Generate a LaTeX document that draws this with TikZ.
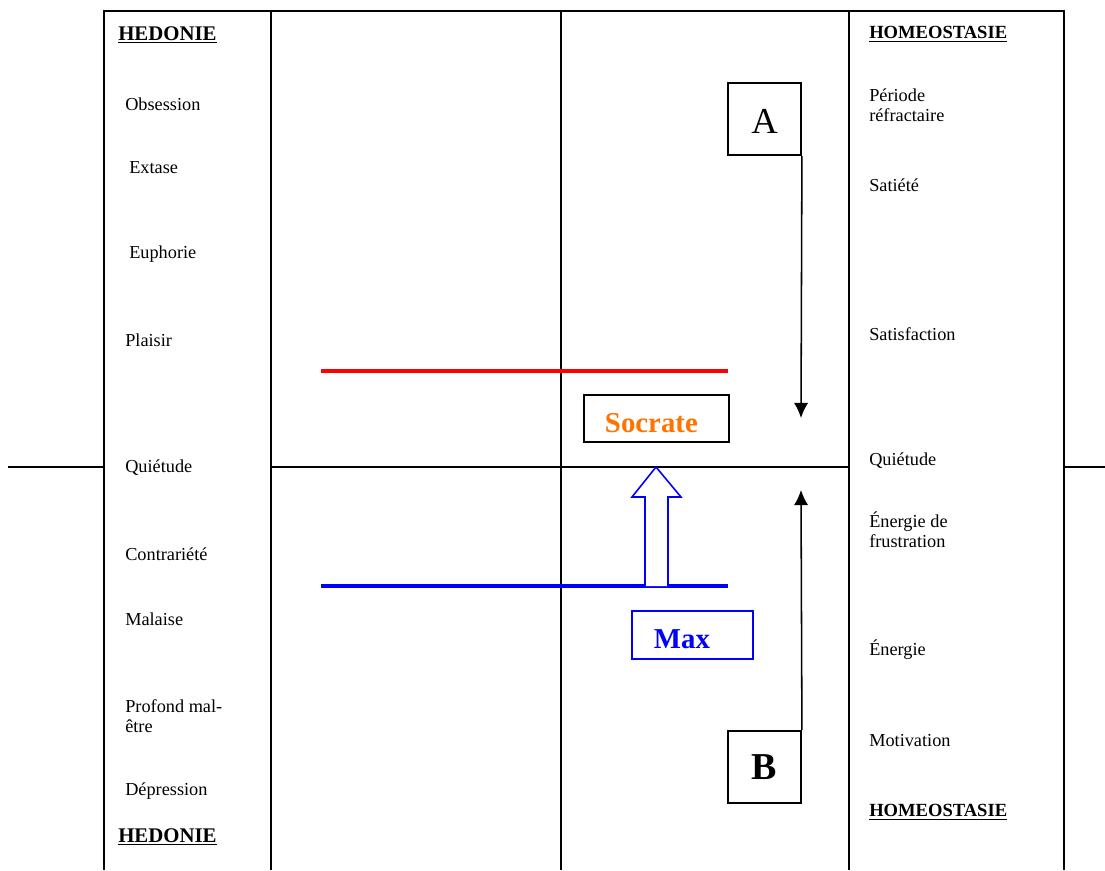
\documentclass[tikz,border=0pt]{standalone}
\usepackage{fontspec}
\setmainfont{Liberation Serif}
\usetikzlibrary{positioning,arrows.meta}

\newcommand{\lowered}[2]{\raisebox{-#1}[\height][\depth]{#2}}

\tikzset{
	lbl/.style={anchor=west,inner sep=0pt,align=left,font=\fontsize{13}{14.5}\selectfont},
	ttl/.style={anchor=west,inner sep=0pt,font=\bfseries\fontsize{14.8}{16}\selectfont},
	letterbox/.style={draw,line width=1.3pt,minimum width=1.825cm,minimum height=1.8cm,inner sep=0pt,font=\fontsize{26}{28}\selectfont},
	namebox/.style={draw,line width=1.1pt,inner ysep=0pt,align=left,font=\bfseries\fontsize{20.5}{22}\selectfont},
	level/.style={line width=2.8pt}
}

\begin{document}
\begin{tikzpicture}[x=0.025cm,y=-0.025cm]
		\useasboundingbox (0,0) rectangle (1105,870);
		% grid of the table
		\draw[line width=1.3pt] (104,870) -- (104,11) -- (1064,11) -- (1064,870);
		\draw[line width=2pt] (271,11) -- (271,870);
		\draw[line width=1.1pt] (561,11) -- (561,870);
		\draw[line width=1.3pt] (849,11) -- (849,870);
		\draw[line width=1.1pt] (8,467) -- (104,467);
		\draw[line width=1.1pt] (271,467) -- (849,467);
		\draw[line width=1.1pt] (1064,467) -- (1105,467);

		% left column
		\node[ttl] (hedtop) at (118,35) {\underline{HEDONIE}};
		\node[lbl] (obsession) at (125,104) {Obsession};
		\node[lbl] (extase) at (129,168) {Extase};
		\node[lbl] (euphorie) at (129,254) {Euphorie};
		\node[lbl] (plaisir) at (125,340) {Plaisir};
		\node[lbl] (quietl) at (125,468) {Quiétude};
		\node[lbl] (contrariete) at (125,554) {Contrariété};
		\node[lbl] (malaise) at (125,619) {Malaise};
		\node[lbl] (profond) at (125,716) {Profond mal-\\être};
		\node[lbl] (depression) at (125,791) {Dépression};
		\node[ttl] (hedbot) at (118,837) {\underline{HEDONIE}};

		% right column
		\node[ttl,font=\bfseries\fontsize{13.2}{15}\selectfont] (homtop) at (869,34) {\underline{HOMEOSTASIE}};
		\node[lbl] (periode) at (869,105) {Période\\réfractaire};
		\node[lbl] (satiete) at (869,185) {Satiété};
		\node[lbl] (satisfaction) at (869,334) {Satisfaction};
		\node[lbl] (quietr) at (869,461) {Quiétude};
		\node[lbl] (frustration) at (869,530) {Énergie de\\frustration};
		\node[lbl] (energie) at (869,650) {Énergie};
		\node[lbl] (motivation) at (869,741) {Motivation};
		\node[ttl,font=\bfseries\fontsize{13.2}{15}\selectfont] (hombot) at (869,812) {\underline{HOMEOSTASIE}};

		% levels
		\draw[level,red] (321,371) -- (728,371);
		\draw[level,blue] (321,586) -- (728,586);

		\node[namebox,inner xsep=0.525cm,text width=2.575cm,minimum height=1.175cm,text=orange!90!red] (socrate) at (656.5,418.5) {\lowered{3.5pt}{Socrate}};
		\node[namebox,inner xsep=0.55cm,text width=1.925cm,minimum height=1.2cm,draw=blue,text=blue] (max) at (692.5,635) {\lowered{3pt}{Max}};

		% hollow arrow from Max up to the mid line
		\draw[blue,line width=1.1pt,fill=white] (645,586) -- (645,497) -- (632,497) -- (656,467) -- (681,497) -- (668,497) -- (668,586);

		\node[letterbox] (A) at (764.5,119) {\lowered{1.5pt}{A}};
		\node[letterbox,font=\bfseries\fontsize{27}{28}\selectfont] (B) at (764.5,767) {B};
		\coordinate (aend) at (801,418);
		\coordinate (bend) at (801,490);
		\draw[line width=1.1pt,-{Latex[length=3.8mm,width=3.6mm]}] (A.south east) -- (aend);
		\draw[line width=1.1pt,-{Latex[length=3.8mm,width=3.6mm]}] (B.north east) -- (bend);
\end{tikzpicture}
\end{document}
